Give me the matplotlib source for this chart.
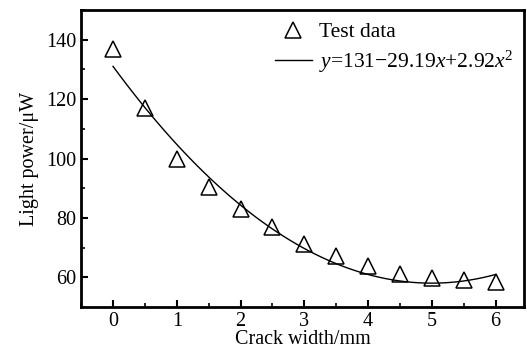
import matplotlib.pyplot as plt
import numpy as np

# Crack width (mm) and measured light power (uW)
widths = [0, 0.5, 1, 1.5, 2, 2.5, 3, 3.5, 4, 4.5, 5, 5.5, 6]
power = [137, 117.1, 100, 90.5, 83, 76.8, 71.3, 67.3, 63.8, 61.1, 59.9, 59.1, 58.5]

# Quadratic fit coefficients shown in the legend
fit_coef = [131, -29.19, 2.92]

plt.rcParams['font.family'] = ['Liberation Serif', 'DejaVu Serif']
plt.rcParams['mathtext.fontset'] = 'custom'
plt.rcParams['mathtext.rm'] = 'Liberation Serif'
plt.rcParams['mathtext.it'] = 'Liberation Serif:italic'

fig, ax = plt.subplots(figsize=(5.27, 3.55), dpi=100)
fig.subplots_adjust(left=0.154, right=0.995, top=0.972, bottom=0.135)

ax.plot(widths, power, linestyle='none', marker='^', markersize=11,
        markerfacecolor='white', markeredgecolor='black', markeredgewidth=1.1,
        label='Test data')
xs = np.linspace(widths[0], widths[-1], 60)
ys = fit_coef[0] + fit_coef[1] * xs + fit_coef[2] * xs ** 2
ax.plot(xs, ys, color='black', linewidth=1.0,
        label=r'$y$=131$-$29.19$x$+2.92$x^{2}$')

ax.set_xlim(-0.5, 6.45)
ax.set_ylim(50, 150)
ax.set_xticks(range(0, 7))
ax.set_xticks(np.arange(-0.5, 6.5, 0.5), minor=True)
ax.set_yticks([60, 80, 100, 120, 140])
ax.set_yticks(range(50, 151, 10), minor=True)

for s in ax.spines.values():
    s.set_linewidth(2.0)
ax.tick_params(which='major', direction='in', length=5, width=1.5, labelsize=14.5)
ax.tick_params(which='minor', direction='in', length=3, width=1.2)

ax.set_xlabel('Crack width/mm', fontsize=14.5, labelpad=-1)
ax.set_ylabel('Light power/\u03bcW', fontsize=14.5, labelpad=5)

ax.legend(loc='upper right', bbox_to_anchor=(1.0, 0.995), frameon=False,
          fontsize=15.5, handlelength=1.7, handletextpad=0.35,
          borderaxespad=0.1, labelspacing=0.3)

plt.savefig('out.png', dpi=100)
